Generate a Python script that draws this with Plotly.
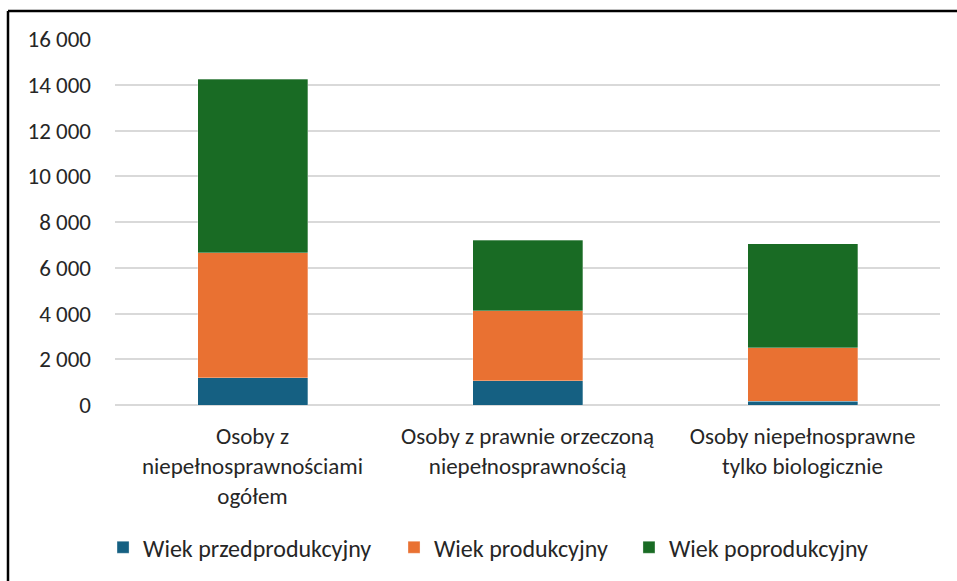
import plotly.graph_objects as go

categories = [
    "Osoby z<br>niepełnosprawnościami<br>ogółem",
    "Osoby z prawnie orzeczoną<br>niepełnosprawnością",
    "Osoby niepełnosprawne<br>tylko biologicznie",
]
przedprodukcyjny = [1200, 1050, 160]
produkcyjny = [5450, 3080, 2340]
poprodukcyjny = [7590, 3080, 4540]

series = [
    ("Wiek przedprodukcyjny", przedprodukcyjny, "#156082", "legend"),
    ("Wiek produkcyjny", produkcyjny, "#E97132", "legend2"),
    ("Wiek poprodukcyjny", poprodukcyjny, "#196B24", "legend3"),
]

FONT = "Carlito, Calibri, Lato, sans-serif"

fig = go.Figure()
for name, vals, color, leg in series:
    fig.add_trace(go.Bar(
        x=categories, y=vals, name=name, legend=leg,
        marker=dict(color=color, line=dict(color="rgba(255,255,255,0.6)", width=0.5)),
        width=0.4,
    ))

def legend_at(x):
    return dict(orientation="h", x=x, xanchor="left", y=-0.386, yanchor="middle",
                font=dict(size=24), itemwidth=30, bgcolor="rgba(0,0,0,0)")

fig.update_layout(
    barmode="stack",
    width=957, height=581,
    margin=dict(l=115, r=17, t=39, b=175),
    plot_bgcolor="white", paper_bgcolor="white",
    font=dict(family=FONT, size=23, color="#262626"),
    separators=", ",
    showlegend=True,
    legend=legend_at(-0.0145),
    legend2=legend_at(0.3382),
    legend3=legend_at(0.623),
    xaxis=dict(showline=False, ticks="", tickfont=dict(size=23), ticklabelstandoff=15),
    yaxis=dict(range=[0, 16000], dtick=2000, tickformat=",d",
               gridcolor="#D9D9D9", gridwidth=1.5, zeroline=True,
               zerolinecolor="#D9D9D9", zerolinewidth=1.5,
               ticks="", ticklabelstandoff=23, tickfont=dict(size=23)),
    shapes=[
        dict(type="line", xref="paper", yref="paper", x0=-0.1297, x1=1.2,
             y0=1.0763, y1=1.0763, line=dict(color="black", width=2.5)),
        dict(type="line", xref="paper", yref="paper", x0=-0.1297, x1=-0.1297,
             y0=1.0763, y1=-0.6, line=dict(color="black", width=2.5)),
    ],
)

fig.write_html("out.html", config={"displayModeBar": False},
               post_script="document.body.style.margin='0';document.body.style.overflow='hidden';")
